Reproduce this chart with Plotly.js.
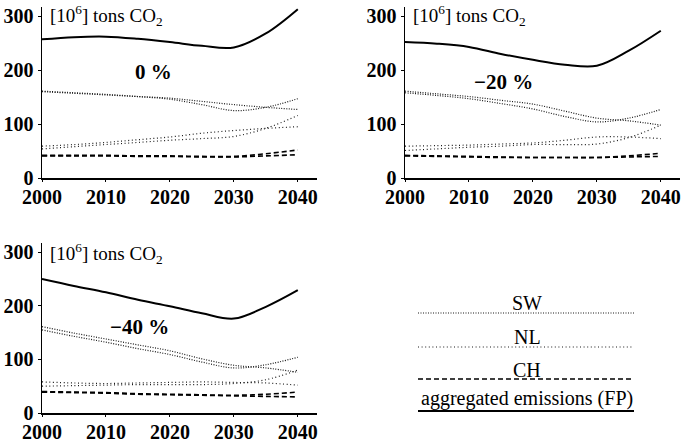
<!DOCTYPE html>
<html><head><meta charset="utf-8">
<script src="https://cdn.plot.ly/plotly-3.0.1.min.js"></script>
<style>html,body{margin:0;padding:0;background:#fff}#chart{width:681px;height:441px}</style>
</head><body><div id="chart"></div>
<script>
// ---- data ----
const years = [2000, 2005, 2010, 2015, 2020, 2025, 2030, 2035, 2040];
const xTicks = [2000, 2010, 2020, 2030, 2040];
const yTicks = [0, 100, 200, 300];
const panelLabels = ["0 %", "\u221220 %", "\u221240 %"];
const legendLabels = ["SW", "NL", "CH", "aggregated emissions (FP)"];

// 0 % scenario
const p0_agg  = [257, 261, 262, 258, 252, 245, 242, 268, 313];
const p0_sw_a = [161, 158, 155, 151, 146, 136, 125, 131, 147];
const p0_sw_b = [160, 157, 154, 151, 148, 142, 136, 131, 127];
const p0_nl_a = [54, 58, 62, 66, 70, 73, 77, 92, 116];
const p0_nl_b = [59, 62, 66, 71, 76, 83, 88, 92, 95];
const p0_ch_a = [42, 42, 42, 41, 41, 40, 40, 45, 52];
const p0_ch_b = [41, 41, 41, 40, 40, 39, 39, 41, 43];

// -20 % scenario
const p20_agg  = [252, 249, 243, 230, 219, 210, 208, 236, 273];
const p20_sw_a = [158, 153, 147, 138, 128, 114, 104, 111, 127];
const p20_sw_b = [161, 156, 151, 144, 137, 124, 111, 106, 98];
const p20_nl_a = [51, 54, 57, 59, 62, 62, 63, 75, 98];
const p20_nl_b = [59, 60, 61, 63, 65, 70, 76, 76, 73];
const p20_ch_a = [42, 41, 40, 39, 38, 38, 38, 41, 46];
const p20_ch_b = [41, 40, 39, 38, 38, 38, 38, 39, 40];

// -40 % scenario
const p40_agg  = [250, 237, 225, 211, 199, 186, 176, 198, 229];
const p40_sw_a = [155, 143, 132, 120, 109, 95, 84, 90, 104];
const p40_sw_b = [161, 149, 138, 127, 116, 101, 89, 84, 76];
const p40_nl_a = [50, 51, 52, 53, 53, 53, 55, 62, 80];
const p40_nl_b = [58, 56, 55, 56, 57, 58, 57, 56, 52];
const p40_ch_a = [40, 39, 38, 36, 35, 34, 33, 35, 39];
const p40_ch_b = [39, 38, 37, 35, 34, 33, 32, 31, 30];

// ---- styles ----
const W = 681, H = 441;
const fx = v => v / W, fy = v => 1 - v / H;
const STY = {
  sw:  {color: '#1a1a1a', width: 1.2, dash: '1px,1.5px'},
  nl:  {color: '#1a1a1a', width: 1.2, dash: '1px,2.6px'},
  ch:  {color: '#000', width: 1.6, dash: '5px,3px'},
  agg: {color: '#000', width: 2, dash: 'solid'}
};
const serif = "Liberation Serif";

const panels = [
  {xa: 'x',  ya: 'y',  s: [p0_agg, p0_sw_a, p0_sw_b, p0_nl_a, p0_nl_b, p0_ch_a, p0_ch_b]},
  {xa: 'x2', ya: 'y2', s: [p20_agg, p20_sw_a, p20_sw_b, p20_nl_a, p20_nl_b, p20_ch_a, p20_ch_b]},
  {xa: 'x3', ya: 'y3', s: [p40_agg, p40_sw_a, p40_sw_b, p40_nl_a, p40_nl_b, p40_ch_a, p40_ch_b]}
];
const kinds = ['agg', 'sw', 'sw', 'nl', 'nl', 'ch', 'ch'];

const traces = [];
panels.forEach(p => {
  p.s.forEach((vals, i) => {
    traces.push({
      x: years, y: vals, xaxis: p.xa, yaxis: p.ya, mode: 'lines',
      type: 'scatter', showlegend: false, hoverinfo: 'skip',
      line: Object.assign({shape: 'spline', smoothing: 1}, STY[kinds[i]])
    });
  });
});

function xax(d, anchor) {
  return {domain: d, anchor: anchor, range: [2000, 2043], tickvals: xTicks,
    ticktext: xTicks.map(String), showgrid: false, zeroline: false,
    showline: true, linecolor: '#000', linewidth: 1.5, ticks: 'outside',
    ticklen: 2, tickwidth: 1, tickcolor: '#000', ticklabelstandoff: -2,
    tickfont: {family: serif, size: 20, color: '#000', weight: 'bold'}};
}
function yax(d, anchor) {
  return {domain: d, anchor: anchor, range: [0, 317], tickvals: yTicks,
    ticktext: yTicks.map(String), showgrid: false, zeroline: false,
    showline: true, linecolor: '#000', linewidth: 1.5, ticks: 'outside',
    ticklen: 3, tickwidth: 1, tickcolor: '#000',
    tickfont: {family: serif, size: 20, color: '#000', weight: 'bold'}};
}

const top1 = [fy(178), fy(7)];
const bot = [fy(413), fy(243)];
const left = [fx(42), fx(317)];
const right = [fx(405), fx(680)];

const unitText = '[10<sup>6</sup>] tons CO<sub>2</sub>';
const annotations = [];
[[48, 16], [411, 16], [48, 253]].forEach(([x, y]) => {
  annotations.push({xref: 'paper', yref: 'paper', x: fx(x), y: fy(y),
    xanchor: 'left', yanchor: 'middle', showarrow: false, text: unitText,
    font: {family: serif, size: 19, color: '#000'}});
});
[[153, 72], [503, 82], [139, 327]].forEach(([x, y], i) => {
  annotations.push({xref: 'paper', yref: 'paper', x: fx(x), y: fy(y),
    xanchor: 'center', yanchor: 'middle', showarrow: false, text: panelLabels[i],
    font: {family: serif, size: 21, color: '#000', weight: 'bold'}});
});

// legend
const legKinds = ['sw', 'nl', 'ch', 'agg'];
const legTextY = [303, 337, 370, 398];
const legLineY = [313, 347, 379, 411];
const shapes = [];
legKinds.forEach((k, i) => {
  shapes.push({type: 'line', xref: 'paper', yref: 'paper',
    x0: fx(418), x1: fx(634), y0: fy(legLineY[i]), y1: fy(legLineY[i]),
    line: {color: STY[k].color, width: STY[k].width, dash: STY[k].dash}});
  annotations.push({xref: 'paper', yref: 'paper', x: fx(527), y: fy(legTextY[i]),
    xanchor: 'center', yanchor: 'middle', showarrow: false, text: legendLabels[i],
    font: {family: serif, size: 20, color: '#000'}});
});

const layout = {
  width: W, height: H, margin: {l: 0, r: 0, t: 0, b: 0},
  paper_bgcolor: '#fff', plot_bgcolor: '#fff', showlegend: false,
  xaxis: xax(left, 'y'), yaxis: yax(top1, 'x'),
  xaxis2: xax(right, 'y2'), yaxis2: yax(top1, 'x2'),
  xaxis3: xax(left, 'y3'), yaxis3: yax(bot, 'x3'),
  annotations: annotations, shapes: shapes
};

Plotly.newPlot('chart', traces, layout, {staticPlot: true, displayModeBar: false});
</script></body></html>
